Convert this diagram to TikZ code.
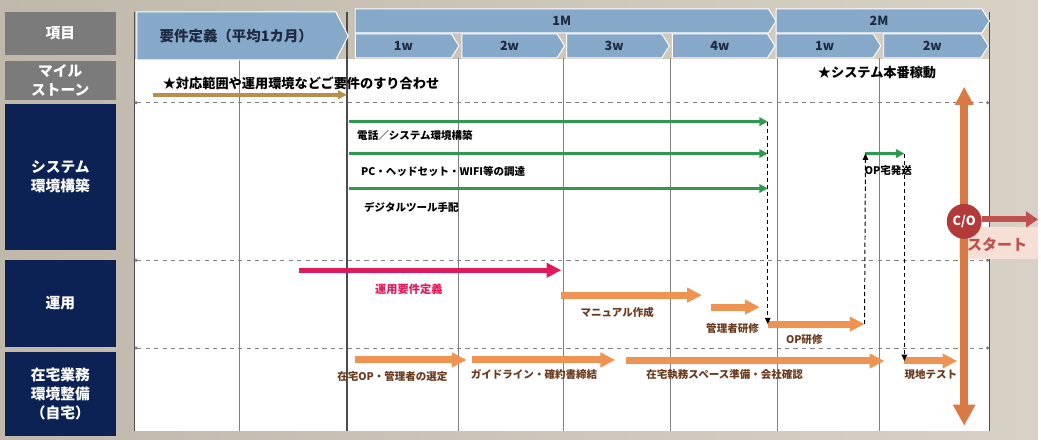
\documentclass[tikz,border=0pt]{standalone}
\usepackage{fontspec}
\setmainfont{Noto Sans CJK JP}
\usepackage{tikz}
\usetikzlibrary{positioning, arrows.meta, shapes.symbols}

\definecolor{bgleft}{HTML}{C0B8AB}
\definecolor{bgright}{HTML}{D8D2C6}
\definecolor{hdrblue}{HTML}{87A9C9}
\definecolor{hdrtext}{HTML}{1E2A40}
\definecolor{navy}{HTML}{0C2254}
\definecolor{itemgray}{HTML}{7B7B7B}
\definecolor{barGreen}{HTML}{2E9A50}
\definecolor{barOrange}{HTML}{EE9352}
\definecolor{bigOrange}{HTML}{D97A45}
\definecolor{barPink}{HTML}{E0185C}
\definecolor{barGold}{HTML}{B98E47}
\definecolor{taskBrown}{HTML}{6B3A1E}
\definecolor{coRed}{HTML}{B23A3A}
\definecolor{startRed}{HTML}{C0504D}
\definecolor{startBg}{HTML}{F6E0D6}

\begin{document}
\begin{tikzpicture}[x=0.025cm, y=-0.025cm,
  hdr/.style={signal, signal to=east, signal pointer angle=115, fill=hdrblue,
    draw=white, line width=0.7pt, inner sep=0pt, minimum height=0.6cm,
    text=hdrtext, font=\bfseries\fontsize{9}{10}\selectfont},
  item/.style={fill=navy, text=white, minimum width=2.775cm, inner sep=0pt,
    align=center, font=\bfseries\fontsize{10.5}{13.5}\selectfont},
  grid line/.style={draw=gray, line width=0.6pt},
  frame line/.style={draw=black!70, line width=0.8pt},
  row line/.style={draw=gray, dashed, line width=0.6pt,
    {Circle[length=2.2pt]}-{Circle[length=2.2pt]}},
  task/.style={anchor=west, inner sep=0pt, font=\bfseries\fontsize{7.5}{9}\selectfont},
  mile/.style={anchor=west, inner sep=0pt, font=\bfseries\fontsize{9.4}{11}\selectfont},
  green bar/.style={draw=barGreen, line width=2.1pt, -{Triangle[length=6pt,width=6pt]}},
  orange bar/.style={draw=barOrange, line width=5pt, -{Triangle[length=10.5pt,width=10pt]}},
  pink bar/.style={draw=barPink, line width=3.8pt, -{Triangle[length=10.5pt,width=10pt]}},
  gold bar/.style={draw=barGold, line width=2.8pt, -{Triangle[length=6.5pt,width=6pt]}},
  link/.style={draw=black, line width=0.7pt, dash pattern=on 3pt off 2pt,
    -{Triangle[length=4.5pt,width=4pt]}}]

% background and panel
\shade[left color=bgleft, right color=bgright] (0,0) rectangle (1041,441);
\fill[white] (135,59) rectangle (993,432);

% left column
\node[item, fill=itemgray, minimum height=1.075cm] (hItem) at (60.5,33.5) {項目};
\node[item, fill=itemgray, minimum height=0.975cm] (hMile) at (60.5,80.5) {マイル\\ストーン};
\node[item, minimum height=3.675cm] (hSys) at (60.5,177.5) {システム\\環境構築};
\node[item, minimum height=2.175cm] (hOps) at (60.5,304.5) {運用};
\node[item, minimum height=2.1cm] (hHome) at (60.5,395) {在宅業務\\環境整備\\（自宅）};

% grid
\foreach \gx in {240,460,565,672,780,882}
  \draw[grid line] (\gx,58) -- (\gx,432);
\foreach \gx in {135,348,992}
  \draw[frame line] (\gx,12) -- (\gx,432);
\foreach \gy in {103,261,349}
  \draw[row line] (135,\gy) -- (992,\gy);

% header
\node[hdr, signal pointer angle=125, minimum width=5.3cm, minimum height=1.2cm,
  font=\bfseries\fontsize{10.3}{12}\selectfont] (req) at (237,36) {要件定義（平均1カ月）};
\node[hdr, minimum width=10.55cm] (m1) at (563.5,21) {1M};
\node[hdr, minimum width=5.35cm] (m2) at (881.5,21) {2M};
\node[hdr, minimum width=2.6cm] (w1) at (404.5,46) {1w};
\node[hdr, minimum width=2.575cm] (w2) at (511,46) {2w};
\node[hdr, minimum width=2.575cm] (w3) at (616,46) {3w};
\node[hdr, minimum width=2.575cm] (w4) at (722,46) {4w};
\node[hdr, minimum width=2.625cm] (w5) at (827,46) {1w};
\node[hdr, minimum width=2.625cm] (w6) at (935,46) {2w};

% milestones
\node[mile] (mFit) at (163,84) {★対応範囲や運用環境などご要件のすり合わせ};
\node[mile] (mLive) at (820,73) {★システム本番稼動};
\coordinate (gs) at (153,95);
\coordinate (ge) at (348,95);
\draw[gold bar] (gs) -- (ge);

% system rows
\coordinate (s1s) at (350,122); \coordinate (s1e) at (770,122);
\coordinate (s2s) at (350,154); \coordinate (s2e) at (770,154);
\coordinate (s3s) at (350,189); \coordinate (s3e) at (770,189);
\coordinate (s4s) at (868,154); \coordinate (s4e) at (907,154);
\draw[green bar] (s1s) -- (s1e);
\draw[green bar] (s2s) -- (s2e);
\draw[green bar] (s3s) -- (s3e);
\draw[green bar] (s4s) -- (s4e);
\node[task] (tPhone) at (358,136) {電話／システム環境構築};
\node[task] (tPC) at (362,172) {PC・ヘッドセット・WIFI等の調達};
\node[task] (tTool) at (365,208) {デジタルツール手配};
\node[task] (tShip) at (867,171) {OP宅発送};

% operation rows
\coordinate (o1s) at (300,271); \coordinate (o1e) at (563,271);
\coordinate (o2s) at (563,296); \coordinate (o2e) at (704,296);
\coordinate (o3s) at (713,308); \coordinate (o3e) at (762,308);
\coordinate (o4s) at (770,325); \coordinate (o4e) at (867,325);
\draw[pink bar] (o1s) -- (o1e);
\draw[orange bar] (o2s) -- (o2e);
\draw[orange bar] (o3s) -- (o3e);
\draw[orange bar] (o4s) -- (o4e);
\node[task, text=barPink, font=\bfseries\fontsize{8}{9}\selectfont] (tReq) at (376,290) {運用要件定義};
\node[task, text=taskBrown] (tManual) at (582,313) {マニュアル作成};
\node[task, text=taskBrown] (tAdmin) at (708,329) {管理者研修};
\node[task, text=taskBrown] (tOP) at (788,341) {OP研修};

% home rows
\coordinate (h1s) at (356,361); \coordinate (h1e) at (468,361);
\coordinate (h2s) at (473,361); \coordinate (h2e) at (617,361);
\coordinate (h3s) at (628,362); \coordinate (h3e) at (887,362);
\coordinate (h4s) at (907,362); \coordinate (h4e) at (960,362);
\draw[orange bar] (h1s) -- (h1e);
\draw[orange bar] (h2s) -- (h2e);
\draw[orange bar] (h3s) -- (h3e);
\draw[orange bar] (h4s) -- (h4e);
\node[task, text=taskBrown] (tSelect) at (338,378) {在宅OP・管理者の選定};
\node[task, text=taskBrown] (tGuide) at (472,376) {ガイドライン・確約書締結};
\node[task, text=taskBrown] (tSpace) at (648,376) {在宅執務スペース準備・会社確認};
\node[task, text=taskBrown] (tTest) at (907,376) {現地テスト};

% dependencies
\draw[link] (s1e) -- (o4s);
\draw[link] (o4e) -- (s4s);
\draw[link] (s4e) -- (h4s);

% cut over
\node[fill=startBg, minimum width=1.975cm, minimum height=0.8cm, inner sep=0pt] (startBox) at (1001.5,244) {};
\coordinate (coTop) at (967,87);
\coordinate (coBot) at (967,427);
\draw[draw=bigOrange, line width=5.7pt, {Triangle[length=13pt,width=12.5pt]}-{Triangle[length=15pt,width=15pt]}] (coTop) -- (coBot);
\node[circle, fill=coRed, text=white, minimum size=0.875cm, inner sep=0pt,
  font=\bfseries\fontsize{9}{10}\selectfont] (co) at (967,222) {C/O};
\coordinate (coEnd) at (1041,220);
\draw[draw=startRed, line width=4.3pt, -{Triangle[length=8.5pt,width=11pt]}] (co.east |- coEnd) -- (coEnd);
\node[text=startRed, inner sep=0pt, font=\bfseries\fontsize{10.7}{12}\selectfont] (start) at (1000,245) {スタート};

\end{tikzpicture}
\end{document}
